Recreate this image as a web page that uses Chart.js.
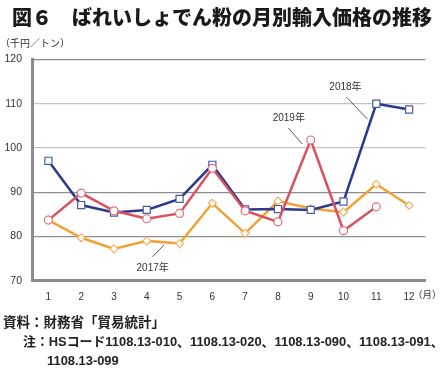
<!DOCTYPE html>
<html>
<head>
<meta charset="utf-8">
<script src="https://cdn.jsdelivr.net/npm/chart.js@4.4.1/dist/chart.umd.min.js"></script>
<style>
    body { margin: 0; background: #fff; width: 441px; height: 369px; overflow: hidden; position: relative; }
    #wrap { position: absolute; left: 0; top: 0; width: 441px; height: 369px; }
    .txt { position: absolute; white-space: nowrap; color: #222; line-height: 1; font-family: "Liberation Sans", "Noto Sans CJK JP", sans-serif; }
    #title { left: 12px; top: 7px; font-family: "Noto Sans CJK JP", sans-serif; font-weight: 900; font-size: 20px; color: #1a1a1a; }
    #unit { left: 0px; top: 38px; font-size: 10px; color: #333; font-family: "Noto Sans CJK JP", sans-serif; }
    #month { left: 413px; top: 290px; font-size: 9.5px; color: #333; font-family: "Noto Sans CJK JP", sans-serif; }
    #src { left: 3px; top: 316px; font-size: 13.5px; font-weight: bold; }
    #note1 { left: 23px; top: 336px; font-size: 12.9px; font-weight: bold; }
    #note2 { left: 47px; top: 355px; font-size: 12.9px; font-weight: bold; }
</style>
</head>
<body>
<div id="wrap"><canvas id="priceChart" width="441" height="369"></canvas></div>
<div class="txt" id="title">図６　ばれいしょでん粉の月別輸入価格の推移</div>
<div class="txt" id="unit">（千円／トン）</div>
<div class="txt" id="month">（月）</div>
<div class="txt" id="src">資料：財務省「貿易統計」</div>
<div class="txt" id="note1">注：HSコード1108.13-010、1108.13-020、1108.13-090、1108.13-091、</div>
<div class="txt" id="note2">1108.13-099</div>
<script>
// 月（横軸）
const months = ['1', '2', '3', '4', '5', '6', '7', '8', '9', '10', '11', '12'];
// 各年の輸入価格（千円/トン）
const price2017 = [83.7, 79.7, 77.2, 79.0, 78.4, 87.5, 80.7, 88.0, 86.3, 85.5, 91.8, 87.0];
const price2018 = [97.1, 87.1, 85.4, 86.0, 88.5, 96.2, 86.1, 86.2, 86.0, 87.9, 110.0, 108.7];
const price2019 = [83.7, 89.8, 85.8, 84.0, 85.2, 95.4, 85.8, 83.3, 101.8, 81.3, 86.7, null];
// 縦軸の目盛
const yTicks = [70, 80, 90, 100, 110, 120];

// 系列名のラベル（引き出し線つき）
const seriesNotes = [
    { text: '2018年', at: [9.06, 113.8], from: [9.09, 111.5], to: [9.73, 106.5] },
    { text: '2019年', at: [7.33, 106.8], from: [7.32, 104.5], to: [7.74, 100.9] },
    { text: '2017年', at: [3.18, 72.9], from: [3.17, 75.4], to: [3.53, 78.1] }
];

// 横位置（インデックス）をピクセルに変換
function xPix(scale, v) {
    const a = scale.getPixelForValue(0);
    const b = scale.getPixelForValue(1);
    return a + (b - a) * v;
}

const notePlugin = {
    id: 'notes',
    afterDatasetsDraw(chart) {
        const ctx = chart.ctx;
        const xs = chart.scales.x, ys = chart.scales.y;
        ctx.save();
        ctx.font = '10px "Liberation Sans", "Noto Sans CJK JP", sans-serif';
        ctx.fillStyle = '#333';
        ctx.strokeStyle = '#333';
        ctx.lineWidth = 0.8;
        ctx.textAlign = 'center';
        ctx.textBaseline = 'middle';
        seriesNotes.forEach(n => {
            ctx.fillText(n.text, xPix(xs, n.at[0]), ys.getPixelForValue(n.at[1]));
            ctx.beginPath();
            ctx.moveTo(xPix(xs, n.from[0]), ys.getPixelForValue(n.from[1]));
            ctx.lineTo(xPix(xs, n.to[0]), ys.getPixelForValue(n.to[1]));
            ctx.stroke();
        });
        ctx.restore();
    }
};

const ctx = document.getElementById('priceChart').getContext('2d');
new Chart(ctx, {
    type: 'line',
    data: {
        labels: months,
        datasets: [{
            label: '2019年',
            data: price2019,
            borderColor: '#d9515f',
            borderWidth: 2.5,
            pointStyle: 'circle',
            pointRadius: 4,
            pointBorderWidth: 1.2,
            pointBorderColor: '#e0707e',
            pointBackgroundColor: '#fff',
            spanGaps: false
        }, {
            label: '2018年',
            data: price2018,
            borderColor: '#2b3a8c',
            borderWidth: 2.5,
            pointStyle: 'rect',
            pointRadius: 5,
            pointBorderWidth: 1.2,
            pointBorderColor: '#4a5aa5',
            pointBackgroundColor: '#fff'
        }, {
            label: '2017年',
            data: price2017,
            borderColor: '#f2a134',
            borderWidth: 2.5,
            pointStyle: 'rectRot',
            pointRadius: 4,
            pointBorderWidth: 1.2,
            pointBorderColor: '#f3b260',
            pointBackgroundColor: '#fff'
        }]
    },
    options: {
        responsive: false,
        animation: false,
        layout: { padding: { top: 59.5, right: 15.5, bottom: 58.3, left: 0 } },
        plugins: { legend: { display: false }, tooltip: { enabled: false } },
        elements: { line: { tension: 0 } },
        scales: {
            x: {
                offset: true,
                grid: { display: false },
                border: { display: true, color: '#8c8c8c', width: 3 },
                ticks: { color: '#333', padding: 3, maxRotation: 0, autoSkip: false, font: { size: 10, family: '"Liberation Sans", sans-serif' } },
                afterFit(s) { s.height = 30; }
            },
            y: {
                min: yTicks[0],
                max: yTicks[yTicks.length - 1],
                afterBuildTicks(s) { s.ticks = yTicks.map(v => ({ value: v })); },
                grid: {
                    drawTicks: false,
                    lineWidth: 1.2,
                    color: c => (c.tick && (c.tick.value === 100 || c.tick.value === 110)) ? '#c4c4c4' : '#8e8e8e'
                },
                border: { display: true, color: '#8c8c8c', width: 3 },
                ticks: { color: '#333', padding: 10, font: { size: 10.5, family: '"Liberation Sans", sans-serif' } },
                afterFit(s) { s.width = 32; }
            }
        }
    },
    plugins: [notePlugin]
});
</script>
</body>
</html>
